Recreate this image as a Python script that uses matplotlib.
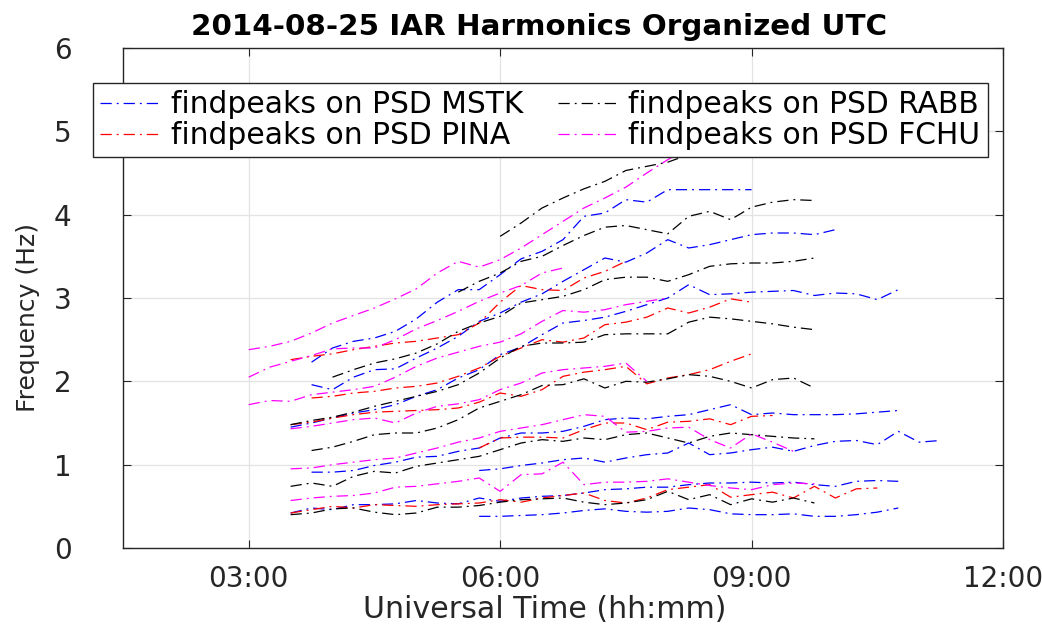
import numpy as np
import matplotlib
matplotlib.use('Agg')
import matplotlib.pyplot as plt
from matplotlib.ticker import FuncFormatter, FixedLocator

plt.rcParams['font.family'] = ['DejaVu Sans']

# ---------------- data (UT hours, Hz), one sample every 15 min ---------------- #
step = 0.25

# MSTK (blue)
mstk_start = [5.75, 3.5, 3.75, 5.75, 3.5, 3.75, 3.75]
mstk_lines = [
    [0.38, 0.38, 0.39, 0.40, 0.42, 0.45, 0.47, 0.44, 0.43, 0.44, 0.48, 0.46, 0.41,
     0.40, 0.40, 0.41, 0.38, 0.38, 0.40, 0.43, 0.48],
    [0.42, 0.48, 0.46, 0.52, 0.52, 0.53, 0.57, 0.54, 0.53, 0.60, 0.56, 0.60, 0.62,
     0.63, 0.66, 0.70, 0.71, 0.73, 0.73, 0.76, 0.78, 0.78, 0.79, 0.78, 0.79, 0.76,
     0.74, 0.80, 0.81, 0.80],
    [0.91, 0.91, 0.93, 0.99, 1.03, 1.09, 1.10, 1.16, 1.20, 1.32, 1.38, 1.38, 1.40,
     1.46, 1.54, 1.56, 1.55, 1.58, 1.60, 1.66, 1.72, 1.60, 1.62, 1.60, 1.60, 1.60,
     1.61, 1.63, 1.65],
    [0.93, 0.95, 0.99, 1.02, 1.06, 1.08, 1.03, 1.08, 1.12, 1.14, 1.26, 1.12, 1.14,
     1.18, 1.21, 1.16, 1.23, 1.28, 1.29, 1.24, 1.40, 1.27, 1.29],
    [1.45, 1.50, 1.56, 1.62, 1.66, 1.72, 1.82, 1.90, 2.04, 2.14, 2.32, 2.41, 2.56,
     2.70, 2.73, 2.77, 2.84, 2.92, 3.00, 3.16, 3.04, 3.05, 3.07, 3.08, 3.09, 3.03,
     3.06, 3.05, 2.98, 3.10],
    [1.96, 1.90, 2.05, 2.14, 2.15, 2.28, 2.40, 2.54, 2.72, 2.82, 2.95, 3.05, 3.20,
     3.34, 3.48, 3.43, 3.54, 3.70, 3.60, 3.64, 3.70, 3.76, 3.78, 3.78, 3.76, 3.82],
    [2.23, 2.40, 2.48, 2.52, 2.60, 2.75, 2.95, 3.10, 3.10, 3.28, 3.47, 3.56, 3.70,
     3.98, 4.02, 4.18, 4.15, 4.30, 4.30, 4.30, 4.30, 4.30],
]

# PINA (red)
pina_start = [3.5, 5.75, 3.5, 3.75, 3.5]
pina_lines = [
    [0.42, 0.46, 0.50, 0.48, 0.52, 0.51, 0.50, 0.52, 0.53, 0.54, 0.58, 0.55, 0.60,
     0.63, 0.66, 0.57, 0.54, 0.60, 0.70, 0.73, 0.76, 0.61, 0.64, 0.67, 0.60, 0.74,
     0.60, 0.71, 0.72],
    [1.20, 1.32, 1.33, 1.33, 1.32, 1.42, 1.50, 1.50, 1.42, 1.51, 1.52, 1.55, 1.48,
     1.58, 1.59],
    [1.48, 1.51, 1.56, 1.60, 1.63, 1.64, 1.65, 1.66, 1.68, 1.75, 1.86, 1.82, 1.90,
     2.06, 2.11, 2.14, 2.18, 1.97, 2.04, 2.08, 2.14, 2.24, 2.33],
    [1.80, 1.82, 1.86, 1.88, 1.92, 1.94, 1.98, 2.06, 2.16, 2.30, 2.40, 2.50, 2.47,
     2.52, 2.68, 2.71, 2.77, 2.88, 2.82, 2.89, 2.99, 2.95],
    [2.26, 2.30, 2.33, 2.38, 2.42, 2.46, 2.48, 2.52, 2.56, 2.70, 2.95, 3.15, 3.10,
     3.09, 3.24, 3.32, 3.44],
]

# RABB (black)
rabb_start = [3.5, 3.5, 3.75, 3.5, 4.0, 5.5, 6.0]
rabb_lines = [
    [0.40, 0.42, 0.47, 0.48, 0.43, 0.40, 0.42, 0.49, 0.49, 0.51, 0.55, 0.58, 0.59,
     0.60, 0.55, 0.52, 0.54, 0.58, 0.68, 0.58, 0.64, 0.52, 0.59, 0.55, 0.60, 0.54],
    [0.74, 0.78, 0.74, 0.86, 0.92, 0.90, 0.98, 1.02, 1.06, 1.10, 1.18, 1.26, 1.30,
     1.28, 1.32, 1.30, 1.36, 1.38, 1.32, 1.26, 1.34, 1.38, 1.36, 1.34, 1.32, 1.31],
    [1.17, 1.21, 1.28, 1.36, 1.38, 1.38, 1.44, 1.54, 1.68, 1.76, 1.84, 1.95, 1.96,
     2.03, 1.92, 2.00, 1.99, 2.03, 2.08, 2.06, 2.00, 1.92, 2.02, 2.04, 1.92],
    [1.48, 1.53, 1.57, 1.63, 1.70, 1.76, 1.82, 1.88, 1.96, 2.10, 2.28, 2.42, 2.46,
     2.46, 2.47, 2.56, 2.57, 2.57, 2.57, 2.71, 2.77, 2.75, 2.72, 2.69, 2.65, 2.62],
    [2.05, 2.14, 2.22, 2.27, 2.34, 2.45, 2.60, 2.70, 2.78, 2.94, 2.98, 3.02, 3.10,
     3.22, 3.25, 3.25, 3.20, 3.28, 3.38, 3.41, 3.42, 3.42, 3.44, 3.48],
    [3.07, 3.20, 3.30, 3.44, 3.50, 3.63, 3.75, 3.85, 3.87, 3.82, 3.77, 3.98, 4.04,
     3.94, 4.09, 4.15, 4.18, 4.17],
    [3.74, 3.90, 4.08, 4.20, 4.31, 4.40, 4.53, 4.58, 4.63, 4.72],
]

# FCHU (magenta)
fchu_start = [3.5, 3.5, 3.5, 3.0, 3.0, 3.0]
fchu_lines = [
    [0.57, 0.60, 0.62, 0.63, 0.66, 0.73, 0.74, 0.77, 0.80, 0.84, 0.68, 0.88, 0.89,
     1.03, 0.76, 0.79, 0.79, 0.80, 0.83, 0.79, 0.75, 0.72, 0.70, 0.76, 0.78, 0.77],
    [0.95, 0.96, 1.00, 1.03, 1.06, 1.08, 1.14, 1.20, 1.27, 1.32, 1.40, 1.44, 1.48,
     1.54, 1.60, 1.58, 1.39, 1.40, 1.44, 1.45, 1.30, 1.20, 1.37, 1.27, 1.16],
    [1.43, 1.46, 1.50, 1.54, 1.56, 1.50, 1.62, 1.70, 1.73, 1.78, 1.90, 1.98, 2.10,
     2.14, 2.16, 2.18, 2.22, 2.00],
    [1.72, 1.77, 1.76, 1.84, 1.87, 1.90, 1.94, 2.05, 2.18, 2.28, 2.35, 2.42, 2.47,
     2.57, 2.72, 2.85, 2.83, 2.86, 2.92, 2.96, 3.00],
    [2.05, 2.17, 2.24, 2.31, 2.39, 2.40, 2.40, 2.50, 2.63, 2.73, 2.84, 2.96, 3.06,
     3.15, 3.30, 3.36],
    [2.38, 2.42, 2.48, 2.58, 2.70, 2.79, 2.88, 2.99, 3.11, 3.30, 3.44, 3.37, 3.46,
     3.60, 3.76, 3.92, 4.08, 4.20, 4.33, 4.50, 4.66, 4.80],
]

stations = ['MSTK', 'PINA', 'RABB', 'FCHU']
colors = ['#0000ff', '#ff0000', '#000000', '#ff00ff']
starts = [mstk_start, pina_start, rabb_start, fchu_start]
lines = [mstk_lines, pina_lines, rabb_lines, fchu_lines]

xticks = [3, 6, 9, 12]
yticks = [0, 1, 2, 3, 4, 5, 6]

# ---------------------------------------------------------------------------- #
fig = plt.figure(figsize=(10.42, 6.30), dpi=100)
ax = fig.add_axes([123 / 1042, 82 / 630, 880 / 1042, 500 / 630])

for name, col, st, ll in zip(stations, colors, starts, lines):
    for k, (t0, vals) in enumerate(zip(st, ll)):
        t = t0 + step * np.arange(len(vals))
        ax.plot(t, vals, color=col, lw=0.9, dashes=(9, 4, 1.5, 4),
                label=f'findpeaks on PSD {name}' if k == 0 else None)

ax.set_xlim(1.5, 12)
ax.set_ylim(0, 6)
ax.xaxis.set_major_locator(FixedLocator(xticks))
ax.yaxis.set_major_locator(FixedLocator(yticks))
ax.xaxis.set_major_formatter(FuncFormatter(lambda v, p: f'{int(v):02d}:{int(round((v % 1) * 60)):02d}'))
ax.grid(True, color='#e3e3e3', lw=0.9)
ax.set_axisbelow(True)
for s in ax.spines.values():
    s.set_color('#262626')
    s.set_linewidth(1.0)
ax.tick_params(direction='in', length=6, width=0.8, colors='#262626',
               top=True, right=True, labelsize=20)
ax.tick_params(axis='y', pad=37)
ax.tick_params(axis='x', pad=12)

fig.text(539 / 1042, 1 - 27 / 630, '2014-08-25 IAR Harmonics Organized UTC',
         ha='center', va='center', fontsize=21.2, fontweight='bold')
fig.text(545 / 1042, 1 - 610 / 630, 'Universal Time (hh:mm)',
         ha='center', va='center', fontsize=21.6, color='#262626')
fig.text(28 / 1042, 1 - 317 / 630, 'Frequency (Hz)', rotation=90,
         ha='center', va='center', fontsize=18, color='#262626')

leg = ax.legend(loc='upper left', bbox_to_anchor=(93 / 1042, 1 - 83 / 630),
                bbox_transform=fig.transFigure, ncol=2, fontsize=21.4,
                frameon=True, fancybox=False, framealpha=1, edgecolor='#262626',
                handlelength=2.05, handletextpad=0.33, columnspacing=1.15,
                labelspacing=0.05, borderpad=0.25, borderaxespad=0)
leg.get_frame().set_linewidth(1.0)

fig.savefig('out.png', dpi=100)
